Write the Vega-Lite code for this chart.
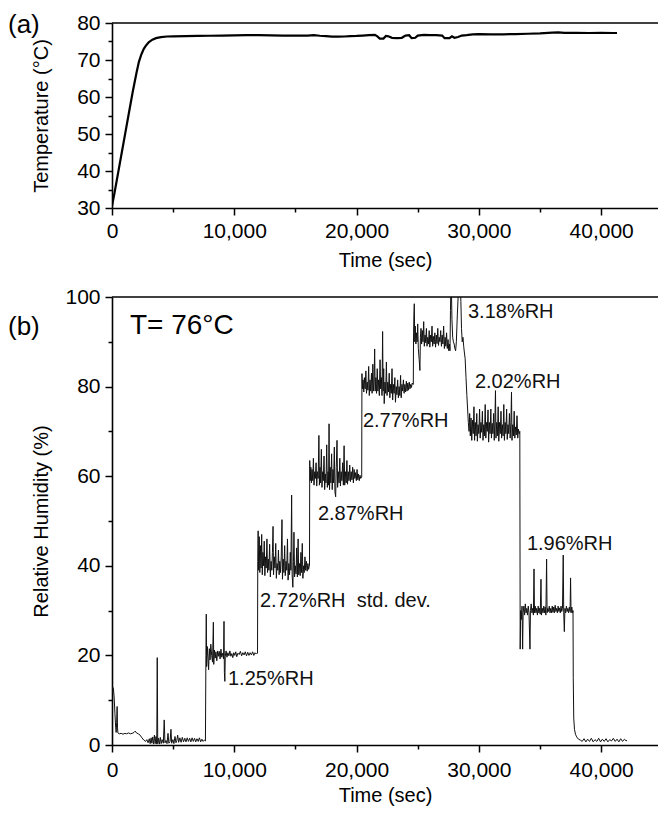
{
  "$schema": "https://vega.github.io/schema/vega-lite/v6.json",
  "padding": {"left": 8, "top": 12, "right": 0, "bottom": 5},
  "spacing": 16,
  "config": {"view": {"stroke": null}, "font": "Liberation Sans",
    "axis": {"domainColor": "black", "tickColor": "black", "labelColor": "black", "titleColor": "black", "grid": false, "domainWidth": 1.6, "tickWidth": 1.5, "labelFontSize": 21, "titleFontSize": 20, "titleFontWeight": "normal", "labelFont": "Liberation Sans", "titleFont": "Liberation Sans"}},
  "datasets": {
    "one": [{"k": 1}],
    "temp": [
      {"t":0,"T":30.5},{"t":200,"T":34},{"t":500,"T":39.5},{"t":800,"T":45},{"t":1100,"T":50.5},{"t":1400,"T":56},{"t":1700,"T":61.5},{"t":2000,"T":66.5},{"t":2200,"T":69.5},{"t":2400,"T":71.5},{"t":2600,"T":73},{"t":2800,"T":74},{"t":3000,"T":74.8},{"t":3300,"T":75.5},{"t":3600,"T":75.9},{"t":4000,"T":76.2},{"t":4500,"T":76.35},{"t":5000,"T":76.4},{"t":6000,"T":76.45},{"t":7000,"T":76.5},{"t":8000,"T":76.55},{"t":9000,"T":76.6},{"t":10000,"T":76.65},{"t":11000,"T":76.7},{"t":12000,"T":76.7},{"t":13000,"T":76.65},{"t":14000,"T":76.6},{"t":15000,"T":76.6},{"t":16000,"T":76.6},{"t":16500,"T":76.7},{"t":17000,"T":76.55},{"t":17500,"T":76.45},{"t":18000,"T":76.3},{"t":18500,"T":76.3},{"t":19000,"T":76.35},{"t":19500,"T":76.45},{"t":20000,"T":76.5},{"t":20500,"T":76.6},{"t":21000,"T":76.7},{"t":21500,"T":76.8},{"t":21700,"T":76.4},{"t":21900,"T":75.8},{"t":22200,"T":75.8},{"t":22400,"T":76.5},{"t":22600,"T":76.4},{"t":22900,"T":76.0},{"t":23300,"T":75.9},{"t":23700,"T":76.0},{"t":24000,"T":76.6},{"t":24300,"T":76.7},{"t":24500,"T":75.9},{"t":24800,"T":76.0},{"t":25000,"T":76.6},{"t":25500,"T":76.8},{"t":26000,"T":76.7},{"t":26500,"T":76.7},{"t":27000,"T":76.6},{"t":27200,"T":75.9},{"t":27600,"T":75.9},{"t":27800,"T":76.4},{"t":28000,"T":76.0},{"t":28300,"T":76.2},{"t":28600,"T":76.6},{"t":29000,"T":76.7},{"t":29500,"T":76.9},{"t":30000,"T":77.0},{"t":31000,"T":76.9},{"t":32000,"T":76.95},{"t":33000,"T":77.0},{"t":34000,"T":77.1},{"t":35000,"T":77.2},{"t":36000,"T":77.4},{"t":36500,"T":77.45},{"t":37000,"T":77.35},{"t":38000,"T":77.35},{"t":39000,"T":77.3},{"t":40000,"T":77.35},{"t":41000,"T":77.3},{"t":41300,"T":77.3}
    ],
    "rh": [
      {"t":0,"v":11.5},{"t":60,"v":12.9},{"t":120,"v":12.5},{"t":180,"v":10.5},{"t":240,"v":7},{"t":300,"v":4},{"t":340,"v":2.8},{"t":380,"v":5},{"t":420,"v":8.6},{"t":450,"v":4},{"t":480,"v":2.7},{"t":600,"v":2.5},{"t":750,"v":2.6},{"t":900,"v":2.4},{"t":1050,"v":2.6},{"t":1200,"v":2.5},{"t":1350,"v":2.7},{"t":1500,"v":2.5},{"t":1650,"v":2.6},{"t":1800,"v":2.8},{"t":1900,"v":3.1},{"t":2000,"v":2.7},{"t":2150,"v":2.5},{"t":2300,"v":2.2},{"t":2450,"v":1.6},{"t":2600,"v":1.1},{"t":2750,"v":0.8},{"t":2850,"v":1.2},{"t":2950,"v":0.5},{"t":3050,"v":1.4},{"t":3120,"v":0.3},{"t":3200,"v":1.6},{"t":3260,"v":0.4},{"t":3330,"v":1.8},{"t":3400,"v":0.2},{"t":3470,"v":2.2},{"t":3530,"v":0.3},{"t":3600,"v":1.9},{"t":3660,"v":0.2},{"t":3700,"v":19.5},{"t":3740,"v":0.3},{"t":3800,"v":1.5},{"t":3870,"v":0.2},{"t":3950,"v":1.7},{"t":4020,"v":0.3},{"t":4100,"v":1.2},{"t":4200,"v":0.4},{"t":4270,"v":5.6},{"t":4330,"v":0.5},{"t":4420,"v":1.0},{"t":4500,"v":0.3},{"t":4580,"v":2.6},{"t":4650,"v":0.4},{"t":4750,"v":0.8},{"t":4820,"v":3.5},{"t":4880,"v":0.4},{"t":4980,"v":1.2},{"t":5060,"v":0.3},{"t":5150,"v":1.9},{"t":5230,"v":0.5},{"t":5300,"v":1.0},{"t":5370,"v":2.2},{"t":5450,"v":0.6},{"t":5550,"v":1.6},{"t":5650,"v":0.6},{"t":5750,"v":1.7},{"t":5850,"v":0.7},{"t":5950,"v":1.5},{"t":6050,"v":0.7},{"t":6150,"v":1.6},{"t":6250,"v":0.8},{"t":6350,"v":1.5},{"t":6450,"v":0.7},{"t":6550,"v":1.6},{"t":6650,"v":0.8},{"t":6750,"v":1.5},{"t":6850,"v":0.7},{"t":6950,"v":1.4},{"t":7050,"v":0.8},{"t":7150,"v":1.6},{"t":7250,"v":0.7},{"t":7350,"v":1.3},{"t":7450,"v":0.8},{"t":7550,"v":1.1},{"t":7640,"v":0.9},
      {"t":7680,"v":20},{"t":7710,"v":29.2},{"t":7740,"v":17.5},{"t":7790,"v":22},{"t":7850,"v":19.5},{"t":7900,"v":16.8},{"t":7960,"v":21.5},{"t":8020,"v":19},{"t":8080,"v":22.5},{"t":8150,"v":20},{"t":8220,"v":18.5},{"t":8290,"v":27.4},{"t":8320,"v":18},{"t":8380,"v":21.2},{"t":8440,"v":19.4},{"t":8500,"v":20.8},{"t":8570,"v":18.8},{"t":8640,"v":21},{"t":8700,"v":19.8},{"t":8770,"v":20.9},{"t":8840,"v":19.2},{"t":8910,"v":21.4},{"t":8970,"v":19.6},{"t":9050,"v":20.5},{"t":9120,"v":19.2},{"t":9160,"v":27.6},{"t":9190,"v":16.2},{"t":9230,"v":14.2},{"t":9260,"v":19.8},{"t":9330,"v":21},{"t":9400,"v":19.6},{"t":9480,"v":20.6},{"t":9560,"v":19.9},{"t":9640,"v":21},{"t":9720,"v":19.8},{"t":9800,"v":20.4},{"t":9880,"v":19.5},{"t":9960,"v":20.6},{"t":10040,"v":20},{"t":10120,"v":20.8},{"t":10200,"v":19.7},{"t":10300,"v":20.5},{"t":10400,"v":20.2},{"t":10500,"v":20.9},{"t":10600,"v":19.9},{"t":10700,"v":20.6},{"t":10800,"v":20.1},{"t":10900,"v":20.8},{"t":11000,"v":19.9},{"t":11100,"v":20.7},{"t":11200,"v":20.0},{"t":11300,"v":20.6},{"t":11400,"v":20.1},{"t":11500,"v":20.8},{"t":11600,"v":20.0},{"t":11700,"v":20.6},{"t":11800,"v":20.3},{"t":11870,"v":20.5},
      {"t":11900,"v":20.5},{"t":11920,"v":41},{"t":11950,"v":47.8},{"t":11990,"v":39},{"t":12040,"v":46.5},{"t":12090,"v":38.5},{"t":12140,"v":44.5},{"t":12190,"v":39.5},{"t":12240,"v":47},{"t":12290,"v":38},{"t":12340,"v":43},{"t":12400,"v":40},{"t":12450,"v":45.5},{"t":12500,"v":37.8},{"t":12560,"v":42},{"t":12610,"v":39.5},{"t":12670,"v":46},{"t":12720,"v":38.5},{"t":12780,"v":41.5},{"t":12830,"v":39},{"t":12890,"v":44.8},{"t":12950,"v":37.5},{"t":13010,"v":41},{"t":13070,"v":39},{"t":13120,"v":43},{"t":13170,"v":48.8},{"t":13210,"v":38},{"t":13270,"v":42},{"t":13330,"v":39.5},{"t":13390,"v":45},{"t":13440,"v":37.2},{"t":13500,"v":40.5},{"t":13560,"v":39},{"t":13610,"v":43.5},{"t":13670,"v":38},{"t":13720,"v":41},{"t":13780,"v":38.5},{"t":13840,"v":42},{"t":13900,"v":50.3},{"t":13940,"v":37},{"t":14000,"v":41.5},{"t":14060,"v":38.5},{"t":14120,"v":44.5},{"t":14170,"v":37.8},{"t":14230,"v":41},{"t":14290,"v":39},{"t":14350,"v":46},{"t":14400,"v":36.8},{"t":14460,"v":40.5},{"t":14520,"v":38},{"t":14580,"v":43},{"t":14630,"v":39},{"t":14690,"v":55.8},{"t":14730,"v":38},{"t":14790,"v":35.2},{"t":14840,"v":41},{"t":14880,"v":47.5},{"t":14930,"v":37.5},{"t":14990,"v":40},{"t":15050,"v":38.2},{"t":15100,"v":44},{"t":15160,"v":37.5},{"t":15220,"v":46},{"t":15270,"v":38},{"t":15330,"v":40.5},{"t":15390,"v":37.8},{"t":15450,"v":43},{"t":15500,"v":38.5},{"t":15560,"v":45},{"t":15610,"v":37.2},{"t":15670,"v":40},{"t":15720,"v":38.5},{"t":15780,"v":42},{"t":15840,"v":39},{"t":15900,"v":41},{"t":15960,"v":38.8},{"t":16020,"v":40.5},{"t":16080,"v":39.2},{"t":16130,"v":40},
      {"t":16150,"v":40},{"t":16170,"v":63.5},{"t":16210,"v":59},{"t":16260,"v":62},{"t":16310,"v":58.5},{"t":16360,"v":61.5},{"t":16420,"v":59},{"t":16470,"v":64},{"t":16520,"v":58},{"t":16580,"v":61},{"t":16630,"v":59.5},{"t":16690,"v":63},{"t":16740,"v":57.8},{"t":16800,"v":61},{"t":16860,"v":59.5},{"t":16920,"v":69.1},{"t":16960,"v":58},{"t":17010,"v":62},{"t":17060,"v":58.5},{"t":17120,"v":66},{"t":17170,"v":57.5},{"t":17230,"v":61},{"t":17280,"v":59},{"t":17340,"v":64.5},{"t":17390,"v":57},{"t":17450,"v":60.5},{"t":17500,"v":58.5},{"t":17560,"v":67},{"t":17610,"v":57.5},{"t":17670,"v":61},{"t":17710,"v":58},{"t":17750,"v":71.7},{"t":17790,"v":57},{"t":17840,"v":62},{"t":17900,"v":58.5},{"t":17960,"v":65},{"t":18010,"v":57},{"t":18070,"v":61.5},{"t":18120,"v":58.5},{"t":18180,"v":66.5},{"t":18230,"v":56.5},{"t":18290,"v":55.4},{"t":18340,"v":62},{"t":18400,"v":68},{"t":18450,"v":57.5},{"t":18510,"v":61},{"t":18570,"v":58.5},{"t":18630,"v":64},{"t":18680,"v":57.8},{"t":18740,"v":61},{"t":18800,"v":59},{"t":18860,"v":63},{"t":18920,"v":58},{"t":18980,"v":66.8},{"t":19030,"v":58},{"t":19090,"v":61},{"t":19150,"v":58.5},{"t":19210,"v":63.5},{"t":19260,"v":58.2},{"t":19320,"v":61},{"t":19380,"v":59},{"t":19440,"v":62.5},{"t":19500,"v":58.8},{"t":19560,"v":61},{"t":19620,"v":59.2},{"t":19680,"v":62},{"t":19740,"v":58.5},{"t":19800,"v":61.5},{"t":19860,"v":59.5},{"t":19920,"v":60.8},{"t":19980,"v":59},{"t":20040,"v":61.5},{"t":20100,"v":59.2},{"t":20160,"v":60.5},{"t":20220,"v":59},{"t":20280,"v":60.2},{"t":20340,"v":59.5},{"t":20400,"v":59.8},
      {"t":20420,"v":59.8},{"t":20440,"v":82.9},{"t":20480,"v":79.5},{"t":20530,"v":81.5},{"t":20590,"v":78.8},{"t":20640,"v":82},{"t":20700,"v":79.5},{"t":20760,"v":83.5},{"t":20810,"v":78.5},{"t":20870,"v":81},{"t":20930,"v":79.2},{"t":20990,"v":84.5},{"t":21040,"v":78},{"t":21100,"v":81.5},{"t":21160,"v":79},{"t":21220,"v":83},{"t":21270,"v":78.5},{"t":21330,"v":85},{"t":21380,"v":79},{"t":21430,"v":81},{"t":21480,"v":88.4},{"t":21520,"v":79},{"t":21580,"v":82},{"t":21630,"v":78.5},{"t":21690,"v":84},{"t":21740,"v":79},{"t":21800,"v":81.5},{"t":21860,"v":78},{"t":21920,"v":86},{"t":21970,"v":79.5},{"t":22030,"v":82},{"t":22080,"v":78},{"t":22130,"v":92.3},{"t":22170,"v":79},{"t":22220,"v":84},{"t":22260,"v":76.2},{"t":22320,"v":81},{"t":22380,"v":78.5},{"t":22440,"v":85.5},{"t":22490,"v":78},{"t":22550,"v":81},{"t":22610,"v":78.8},{"t":22670,"v":83},{"t":22720,"v":77.5},{"t":22780,"v":80.5},{"t":22840,"v":78.5},{"t":22900,"v":84},{"t":22950,"v":77},{"t":23010,"v":80.5},{"t":23070,"v":78.5},{"t":23130,"v":82},{"t":23180,"v":76.5},{"t":23240,"v":80},{"t":23300,"v":78.2},{"t":23360,"v":81.5},{"t":23420,"v":77.5},{"t":23480,"v":80},{"t":23540,"v":78},{"t":23600,"v":82.5},{"t":23650,"v":77.5},{"t":23710,"v":80.5},{"t":23770,"v":79},{"t":23830,"v":81.5},{"t":23890,"v":78.5},{"t":23950,"v":80.5},{"t":24010,"v":78.8},{"t":24070,"v":81.2},{"t":24130,"v":79},{"t":24190,"v":80.8},{"t":24250,"v":79.2},{"t":24310,"v":81},{"t":24370,"v":79.5},{"t":24430,"v":80.5},{"t":24490,"v":79.8},{"t":24550,"v":80.8},{"t":24620,"v":80.5},
      {"t":24640,"v":80.5},{"t":24660,"v":92},{"t":24690,"v":96},{"t":24720,"v":98.5},{"t":24760,"v":90},{"t":24800,"v":93.5},{"t":24850,"v":89.5},{"t":24900,"v":92},{"t":24950,"v":90},{"t":25000,"v":94},{"t":25050,"v":88.5},{"t":25120,"v":86},{"t":25180,"v":83.6},{"t":25220,"v":91},{"t":25270,"v":93},{"t":25320,"v":89.5},{"t":25380,"v":92.5},{"t":25430,"v":90},{"t":25490,"v":94.5},{"t":25540,"v":89},{"t":25600,"v":91.5},{"t":25650,"v":89.8},{"t":25710,"v":93},{"t":25760,"v":89},{"t":25820,"v":91},{"t":25880,"v":89.5},{"t":25940,"v":92.5},{"t":25990,"v":88.8},{"t":26050,"v":91.5},{"t":26110,"v":90},{"t":26170,"v":93.5},{"t":26220,"v":89},{"t":26280,"v":91.2},{"t":26340,"v":89.5},{"t":26400,"v":92},{"t":26460,"v":88.8},{"t":26520,"v":91.5},{"t":26580,"v":89.6},{"t":26640,"v":93},{"t":26700,"v":89.2},{"t":26760,"v":91},{"t":26820,"v":90},{"t":26880,"v":92.5},{"t":26940,"v":89},{"t":27000,"v":91.5},{"t":27060,"v":89.5},{"t":27120,"v":93.5},{"t":27180,"v":88.5},{"t":27240,"v":91},{"t":27300,"v":89},{"t":27360,"v":92},{"t":27420,"v":88.5},{"t":27480,"v":90.5},{"t":27540,"v":88},{"t":27600,"v":89.5},{"t":27640,"v":88},{"t":27680,"v":97},{"t":27720,"v":104},{"t":27760,"v":101},{"t":27800,"v":95},{"t":27860,"v":91},{"t":27920,"v":90},{"t":27980,"v":89.5},{"t":28040,"v":88.5},{"t":28100,"v":88},{"t":28160,"v":90},{"t":28240,"v":96},{"t":28320,"v":101},{"t":28400,"v":104},{"t":28480,"v":103},{"t":28530,"v":99},{"t":28580,"v":93},{"t":28640,"v":90},{"t":28700,"v":91},{"t":28760,"v":89},{"t":28820,"v":87.5},{"t":28880,"v":86.2},{"t":28950,"v":82},{"t":29020,"v":78},{"t":29080,"v":75},{"t":29140,"v":72},
      {"t":29200,"v":70},{"t":29250,"v":74},{"t":29300,"v":69},{"t":29360,"v":73},{"t":29420,"v":68},{"t":29480,"v":72.5},{"t":29540,"v":69.5},{"t":29600,"v":75.5},{"t":29650,"v":68},{"t":29710,"v":72},{"t":29770,"v":69},{"t":29830,"v":74},{"t":29880,"v":67.8},{"t":29940,"v":71.5},{"t":30000,"v":69.5},{"t":30060,"v":75},{"t":30110,"v":68.5},{"t":30170,"v":72},{"t":30230,"v":69.8},{"t":30290,"v":74.5},{"t":30340,"v":68},{"t":30400,"v":71.5},{"t":30460,"v":69},{"t":30520,"v":76},{"t":30570,"v":68.5},{"t":30630,"v":72},{"t":30690,"v":70},{"t":30750,"v":74.8},{"t":30800,"v":67.6},{"t":30860,"v":72},{"t":30920,"v":69.5},{"t":30980,"v":75},{"t":31030,"v":68.5},{"t":31090,"v":71.8},{"t":31150,"v":69.5},{"t":31210,"v":74},{"t":31260,"v":68},{"t":31310,"v":72},{"t":31360,"v":79.1},{"t":31400,"v":68.5},{"t":31460,"v":72},{"t":31520,"v":69},{"t":31580,"v":75.5},{"t":31630,"v":67.8},{"t":31690,"v":72},{"t":31750,"v":69.5},{"t":31810,"v":74.5},{"t":31860,"v":68.5},{"t":31920,"v":71.5},{"t":31980,"v":69},{"t":32040,"v":76},{"t":32090,"v":68},{"t":32150,"v":72},{"t":32210,"v":69.5},{"t":32270,"v":75},{"t":32320,"v":68.2},{"t":32380,"v":71.5},{"t":32440,"v":69.5},{"t":32500,"v":74},{"t":32560,"v":68.5},{"t":32620,"v":72},{"t":32670,"v":78.8},{"t":32710,"v":68},{"t":32770,"v":71.5},{"t":32830,"v":69},{"t":32890,"v":74.5},{"t":32940,"v":68.5},{"t":33000,"v":71},{"t":33060,"v":69.2},{"t":33120,"v":73.5},{"t":33180,"v":68.5},{"t":33240,"v":70.5},{"t":33300,"v":69.5},{"t":33350,"v":70},
      {"t":33380,"v":21.4},{"t":33420,"v":30},{"t":33470,"v":28},{"t":33530,"v":31},{"t":33580,"v":21.4},{"t":33620,"v":29.5},{"t":33680,"v":31},{"t":33740,"v":29},{"t":33800,"v":31.5},{"t":33860,"v":29.5},{"t":33920,"v":30.5},{"t":33980,"v":29},{"t":34040,"v":31},{"t":34100,"v":29.5},{"t":34180,"v":21.4},{"t":34220,"v":30},{"t":34280,"v":31.5},{"t":34340,"v":29.5},{"t":34400,"v":30.5},{"t":34460,"v":29},{"t":34510,"v":39.3},{"t":34550,"v":29.5},{"t":34610,"v":31},{"t":34670,"v":29.5},{"t":34730,"v":30.5},{"t":34790,"v":29},{"t":34850,"v":31},{"t":34910,"v":29.5},{"t":34960,"v":30.5},{"t":35020,"v":29.2},{"t":35080,"v":37},{"t":35120,"v":29},{"t":35190,"v":30.5},{"t":35250,"v":29.5},{"t":35310,"v":31},{"t":35370,"v":29.5},{"t":35430,"v":30.8},{"t":35480,"v":29},{"t":35540,"v":41.5},{"t":35580,"v":29.5},{"t":35640,"v":30.5},{"t":35700,"v":29.8},{"t":35760,"v":31},{"t":35820,"v":29.5},{"t":35880,"v":30.5},{"t":35940,"v":29.5},{"t":36000,"v":31},{"t":36060,"v":29.6},{"t":36120,"v":30.8},{"t":36180,"v":29.5},{"t":36240,"v":31.2},{"t":36300,"v":29.8},{"t":36360,"v":30.5},{"t":36420,"v":29.5},{"t":36480,"v":31},{"t":36540,"v":29.8},{"t":36600,"v":30.6},{"t":36660,"v":29.5},{"t":36720,"v":31},{"t":36780,"v":29.8},{"t":36840,"v":30.5},{"t":36900,"v":42.4},{"t":36940,"v":29.5},{"t":36990,"v":25.3},{"t":37040,"v":30.5},{"t":37100,"v":29.5},{"t":37160,"v":31},{"t":37220,"v":29.8},{"t":37280,"v":30.5},{"t":37340,"v":29.5},{"t":37400,"v":30.8},{"t":37460,"v":29.8},{"t":37500,"v":37.3},{"t":37540,"v":29.5},{"t":37600,"v":30.8},{"t":37660,"v":29.5},{"t":37700,"v":30},{"t":37720,"v":15},{"t":37760,"v":6},{"t":37820,"v":3.5},{"t":37900,"v":2.4},{"t":38000,"v":1.8},{"t":38150,"v":1.3},{"t":38300,"v":1.1},
      {"t":38450,"v":0.8},{"t":38600,"v":1.4},{"t":38750,"v":0.7},{"t":38900,"v":1.3},{"t":39050,"v":0.8},{"t":39200,"v":1.5},{"t":39350,"v":0.7},{"t":39500,"v":1.2},{"t":39650,"v":0.8},{"t":39800,"v":1.5},{"t":39950,"v":0.7},{"t":40100,"v":1.3},{"t":40250,"v":0.8},{"t":40400,"v":1.4},{"t":40550,"v":0.7},{"t":40700,"v":1.2},{"t":40850,"v":0.9},{"t":41000,"v":1.5},{"t":41150,"v":0.8},{"t":41300,"v":1.3},{"t":41450,"v":0.7},{"t":41600,"v":1.4},{"t":41750,"v":0.8},{"t":41900,"v":1.3},{"t":42050,"v":0.9},{"t":42100,"v":1.1}
    ],
    "labels": [
      {"t":9485,"v":14.7,"label":"1.25%RH"},
      {"t":12100,"v":32.1,"label":"2.72%RH"},
      {"t":20010,"v":32.1,"label":"std. dev."},
      {"t":16840,"v":51.6,"label":"2.87%RH"},
      {"t":20520,"v":72.3,"label":"2.77%RH"},
      {"t":29110,"v":96.7,"label":"3.18%RH"},
      {"t":29680,"v":81.1,"label":"2.02%RH"},
      {"t":33930,"v":44.9,"label":"1.96%RH"}
    ]
  },
  "vconcat": [
    {
      "width": 546, "height": 185,
      "layer": [
        {"data": {"name": "temp"},
         "mark": {"type": "line", "color": "black", "strokeWidth": 2.2, "clip": true},
         "encoding": {
           "x": {"field": "t", "type": "quantitative", "scale": {"domain": [0, 44650], "nice": false, "zero": false},
                 "axis": {"orient": "bottom", "values": [0, 10000, 20000, 30000, 40000], "format": ",d", "tickSize": 7, "labelPadding": 5, "title": "Time (sec)", "titlePadding": 9, "labelFlush": false}},
           "y": {"field": "T", "type": "quantitative", "scale": {"domain": [30, 80], "nice": false, "zero": false},
                 "axis": {"orient": "left", "values": [30, 40, 50, 60, 70, 80], "tickSize": 7, "labelPadding": 5, "title": "Temperature (°C)", "titlePadding": 25}}
         }},
        {"data": {"name": "one"},
         "mark": {"type": "rule", "color": "black", "strokeWidth": 1.6},
         "encoding": {
           "y": {"datum": 80, "axis": {"orient": "left", "values": [35, 45, 55, 65, 75], "labels": false, "domain": false, "tickSize": 4, "title": null}},
           "x": {"datum": 0, "axis": {"orient": "bottom", "values": [5000, 15000, 25000, 35000], "labels": false, "domain": false, "tickSize": 4, "title": null}},
           "x2": {"datum": 44650}
         }},
        {"data": {"name": "one"},
         "mark": {"type": "text", "text": "(a)", "fontSize": 26, "align": "left", "baseline": "middle", "dx": -104, "dy": 2, "font": "Liberation Sans"},
         "encoding": {"x": {"datum": 0, "axis": null}, "y": {"datum": 80, "axis": null}}}
      ],
      "resolve": {"axis": {"x": "independent", "y": "independent"}}
    },
    {
      "width": 546, "height": 448,
      "layer": [
        {"data": {"name": "rh"},
         "mark": {"type": "line", "color": "#111111", "strokeWidth": 1, "clip": true},
         "encoding": {
           "x": {"field": "t", "type": "quantitative", "scale": {"domain": [0, 44650], "nice": false, "zero": false},
                 "axis": {"orient": "bottom", "values": [0, 10000, 20000, 30000, 40000], "format": ",d", "tickSize": 7, "labelPadding": 7, "title": "Time (sec)", "titlePadding": 5, "labelFlush": false}},
           "y": {"field": "v", "type": "quantitative", "scale": {"domain": [0, 100], "nice": false, "zero": false},
                 "axis": {"orient": "left", "values": [0, 20, 40, 60, 80, 100], "tickSize": 7, "labelPadding": 5, "title": "Relative Humidity (%)", "titlePadding": 13}}
         }},
        {"data": {"name": "one"},
         "mark": {"type": "rule", "color": "black", "strokeWidth": 1.6},
         "encoding": {
           "y": {"datum": 100, "axis": {"orient": "left", "values": [10, 30, 50, 70, 90], "labels": false, "domain": false, "tickSize": 4, "title": null}},
           "x": {"datum": 0, "axis": {"orient": "bottom", "values": [5000, 15000, 25000, 35000], "labels": false, "domain": false, "tickSize": 4, "title": null}},
           "x2": {"datum": 44650}
         }},
        {"data": {"name": "labels"},
         "mark": {"type": "text", "fontSize": 20, "align": "left", "baseline": "middle", "font": "Liberation Sans", "color": "#111111"},
         "encoding": {"x": {"field": "t", "type": "quantitative", "axis": null}, "y": {"field": "v", "type": "quantitative", "axis": null}, "text": {"field": "label"}}},
        {"data": {"name": "one"},
         "mark": {"type": "text", "text": "T= 76°C", "fontSize": 28, "align": "left", "baseline": "middle", "font": "Liberation Sans"},
         "encoding": {"x": {"datum": 1470, "axis": null}, "y": {"datum": 93.6, "axis": null}}},
        {"data": {"name": "one"},
         "mark": {"type": "text", "text": "(b)", "fontSize": 26, "align": "left", "baseline": "middle", "dx": -104, "font": "Liberation Sans"},
         "encoding": {"x": {"datum": 0, "axis": null}, "y": {"datum": 93.2, "axis": null}}}
      ],
      "resolve": {"axis": {"x": "independent", "y": "independent"}}
    }
  ]
}
